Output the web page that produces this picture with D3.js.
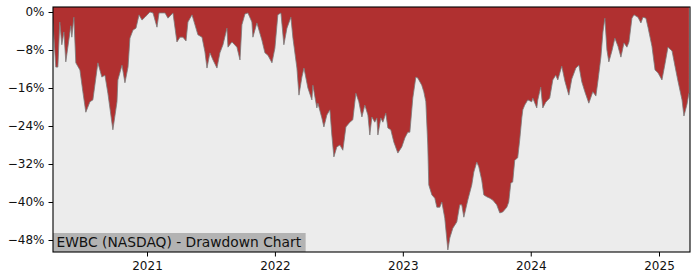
<!DOCTYPE html>
<html>
<head>
<meta charset="utf-8">
<script src="https://cdn.jsdelivr.net/npm/d3@7"></script>
<style>
html,body{margin:0;padding:0;background:#fff;}
svg{display:block;font-family:"DejaVu Sans",sans-serif;}
</style>
</head>
<body>
<svg id="chart" width="700" height="280"></svg>
<script>
// Dates as decimal years
const years = [
2020.266,2020.289,2020.305,2020.320,2020.336,2020.352,2020.367,2020.406,2020.414,2020.430,
2020.445,2020.477,2020.500,2020.523,2020.555,2020.578,2020.617,2020.648,2020.672,2020.695,
2020.734,2020.766,2020.773,2020.805,2020.828,2020.852,2020.867,2020.891,2020.914,2020.938,
2020.961,2020.984,2021.023,2021.047,2021.078,2021.094,2021.141,2021.164,2021.203,2021.234,
2021.258,2021.281,2021.305,2021.320,2021.352,2021.375,2021.398,2021.430,2021.453,2021.469,
2021.492,2021.516,2021.547,2021.570,2021.594,2021.625,2021.633,2021.664,2021.703,2021.727,
2021.742,2021.766,2021.789,2021.820,2021.828,2021.859,2021.898,2021.922,2021.945,2021.977,
2022.000,2022.023,2022.047,2022.070,2022.094,2022.125,2022.141,2022.172,2022.188,2022.211,
2022.227,2022.258,2022.289,2022.297,2022.328,2022.336,2022.367,2022.383,2022.406,2022.430,
2022.445,2022.461,2022.484,2022.508,2022.531,2022.555,2022.586,2022.609,2022.633,2022.656,
2022.680,2022.703,2022.727,2022.742,2022.758,2022.781,2022.797,2022.805,2022.828,2022.844,
2022.867,2022.883,2022.906,2022.930,2022.961,2022.992,2023.016,2023.039,2023.055,2023.078,
2023.102,2023.117,2023.148,2023.164,2023.180,2023.195,2023.203,2023.227,2023.250,2023.266,
2023.289,2023.305,2023.328,2023.352,2023.367,2023.391,2023.422,2023.445,2023.461,2023.477,
2023.508,2023.539,2023.555,2023.578,2023.594,2023.617,2023.633,2023.656,2023.680,2023.703,
2023.734,2023.758,2023.781,2023.813,2023.828,2023.844,2023.859,2023.875,2023.898,2023.914,
2023.930,2023.938,2023.953,2023.977,2024.008,2024.016,2024.047,2024.055,2024.078,2024.094,
2024.117,2024.148,2024.172,2024.195,2024.211,2024.242,2024.266,2024.297,2024.320,2024.352,
2024.375,2024.398,2024.422,2024.453,2024.484,2024.508,2024.523,2024.547,2024.563,2024.578,
2024.594,2024.609,2024.633,2024.656,2024.680,2024.703,2024.727,2024.750,2024.766,2024.789,
2024.805,2024.836,2024.859,2024.875,2024.898,2024.914,2024.945,2024.969,2024.992,2025.023,
2025.047,2025.070,2025.102,2025.125,2025.148,2025.180,2025.195,2025.219,2025.234
];
// Drawdown in percent
const drawdown = [
-1.7,-11.6,-11.6,-2.1,-6.9,-4.2,-10.5,-2.9,-5.3,-1.1,
-10.7,-12.2,-16.8,-21.1,-18.9,-18.5,-10.7,-13.7,-13.3,-17.1,
-24.8,-18.9,-14.3,-11.2,-14.9,-11.6,-5.5,-3.8,-3.4,-0.6,
-1.7,-1.1,0,-0.2,-3.2,-0.2,-0.2,-1.3,-0.2,-6.3,
-5.3,-5.3,-6.1,-2.1,-0.6,-2.7,-4.8,-5.3,-8.4,-11.8,
-8.6,-10.1,-11.8,-8.6,-6.9,-3.4,-7.4,-6.3,-7.4,-10.1,
-2.7,-0.4,-0.2,-2.1,-5.3,-2.3,-5.9,-8.6,-9.1,-10.7,
-7.6,-0.6,-0.2,-6.9,-3.4,-1.1,-5.5,-11.8,-17.5,-13.7,
-11.8,-16.0,-18.5,-15.4,-20.2,-19.2,-22.3,-24.2,-21.7,-20.6,
-25.9,-30.5,-28.4,-28.0,-29.1,-24.2,-23.2,-22.7,-17.1,-18.9,
-22.1,-19.6,-21.7,-25.9,-22.1,-23.2,-22.3,-25.9,-22.3,-23.2,
-21.3,-24.4,-24.8,-27.4,-29.7,-28.4,-26.5,-25.3,-25.3,-18.1,
-13.7,-13.9,-15.4,-16.8,-18.9,-28.0,-36.4,-38.5,-39.2,-41.1,
-41.1,-40.0,-43.4,-50.1,-47.6,-45.5,-44.2,-40.6,-40.6,-43.2,
-39.6,-36.4,-33.7,-31.6,-32.6,-35.4,-38.5,-38.9,-39.2,-39.6,
-40.6,-42.3,-42.1,-41.1,-40.0,-36.0,-35.8,-31.2,-30.7,-26.9,
-22.3,-20.6,-19.6,-18.5,-18.9,-18.1,-20.2,-18.5,-15.8,-20.2,
-19.0,-18.1,-14.3,-13.3,-14.3,-11.4,-14.5,-17.5,-14.1,-11.8,
-11.2,-14.7,-16.8,-19.2,-16.8,-17.7,-14.7,-9.5,-4.2,-1.3,
-8.0,-10.5,-8.2,-5.5,-7.2,-9.5,-6.5,-7.4,-6.3,-1.3,
-0.6,-1.1,-2.3,-1.1,-1.3,-3.2,-7.2,-12.2,-12.8,-14.3,
-10.9,-7.4,-8.2,-11.4,-14.5,-18.5,-21.9,-19.4,-17.1
];
const yTicks = [0,-8,-16,-24,-32,-40,-48];
const xTickYears = [2021,2022,2023,2024,2025];
const title = "EWBC (NASDAQ) - Drawdown Chart";

function yearToDate(y){
  const yr = Math.floor(y);
  const start = new Date(yr,0,1), end = new Date(yr+1,0,1);
  return new Date(start.getTime() + (y-yr)*(end-start));
}
const data = years.map((y,i)=>({date:yearToDate(y), v:drawdown[i]}));

const svg = d3.select("#chart");
const L=53, R=690, T=7, B=252;

const x = d3.scaleTime()
  .domain([new Date(2021,0,1), new Date(2025,0,1)])
  .range([147,659]);
const y = d3.scaleLinear().domain([0,-48]).range([12,240]);

svg.append("defs").append("clipPath").attr("id","clip")
  .append("rect").attr("x",L).attr("y",T).attr("width",R-L).attr("height",B-T);

svg.append("rect").attr("x",L).attr("y",T).attr("width",R-L).attr("height",B-T)
  .attr("fill","#ececec");

const g = svg.append("g").attr("clip-path","url(#clip)");
g.append("path").datum(data)
  .attr("d", d3.area().x(d=>x(d.date)).y0(T).y1(d=>y(d.v)))
  .attr("fill","#b03030");
g.append("path").datum(data)
  .attr("d", d3.line().x(d=>x(d.date)).y(d=>y(d.v)))
  .attr("fill","none").attr("stroke","#7a7a7a").attr("stroke-width",1).attr("stroke-opacity",0.8);

// label box
const lbl = svg.append("g");
const txt = lbl.append("text").attr("x",L+3.5).attr("y",247)
  .attr("font-size",13.8).attr("fill","#111").text(title);
const bw = txt.node().getComputedTextLength();
lbl.insert("rect","text").attr("x",L).attr("y",233).attr("width",bw+8).attr("height",B-233)
  .attr("fill","#b3b3b3");

// axes
const fmtPct = d => (d<0?"\u2212"+Math.abs(d):d)+"%";
const yAxis = svg.append("g").attr("transform",`translate(${L},0)`)
  .call(d3.axisLeft(y).tickValues(yTicks).tickFormat(fmtPct).tickSize(4.5).tickPadding(4));
const xAxis = svg.append("g").attr("transform",`translate(0,${B})`)
  .call(d3.axisBottom(x).tickValues(xTickYears.map(v=>new Date(v,0,1)))
    .tickFormat(d3.timeFormat("%Y")).tickSize(4.5).tickPadding(4.5));
[yAxis,xAxis].forEach(a=>{
  a.select(".domain").remove();
  a.selectAll("text").attr("font-size",12).attr("fill","#111").attr("font-family","DejaVu Sans");
  a.selectAll("line").attr("stroke","#000").attr("stroke-width",1);
});

svg.append("rect").attr("x",L).attr("y",T).attr("width",R-L).attr("height",B-T)
  .attr("fill","none").attr("stroke","#000").attr("stroke-width",1.1);
</script>
</body>
</html>
